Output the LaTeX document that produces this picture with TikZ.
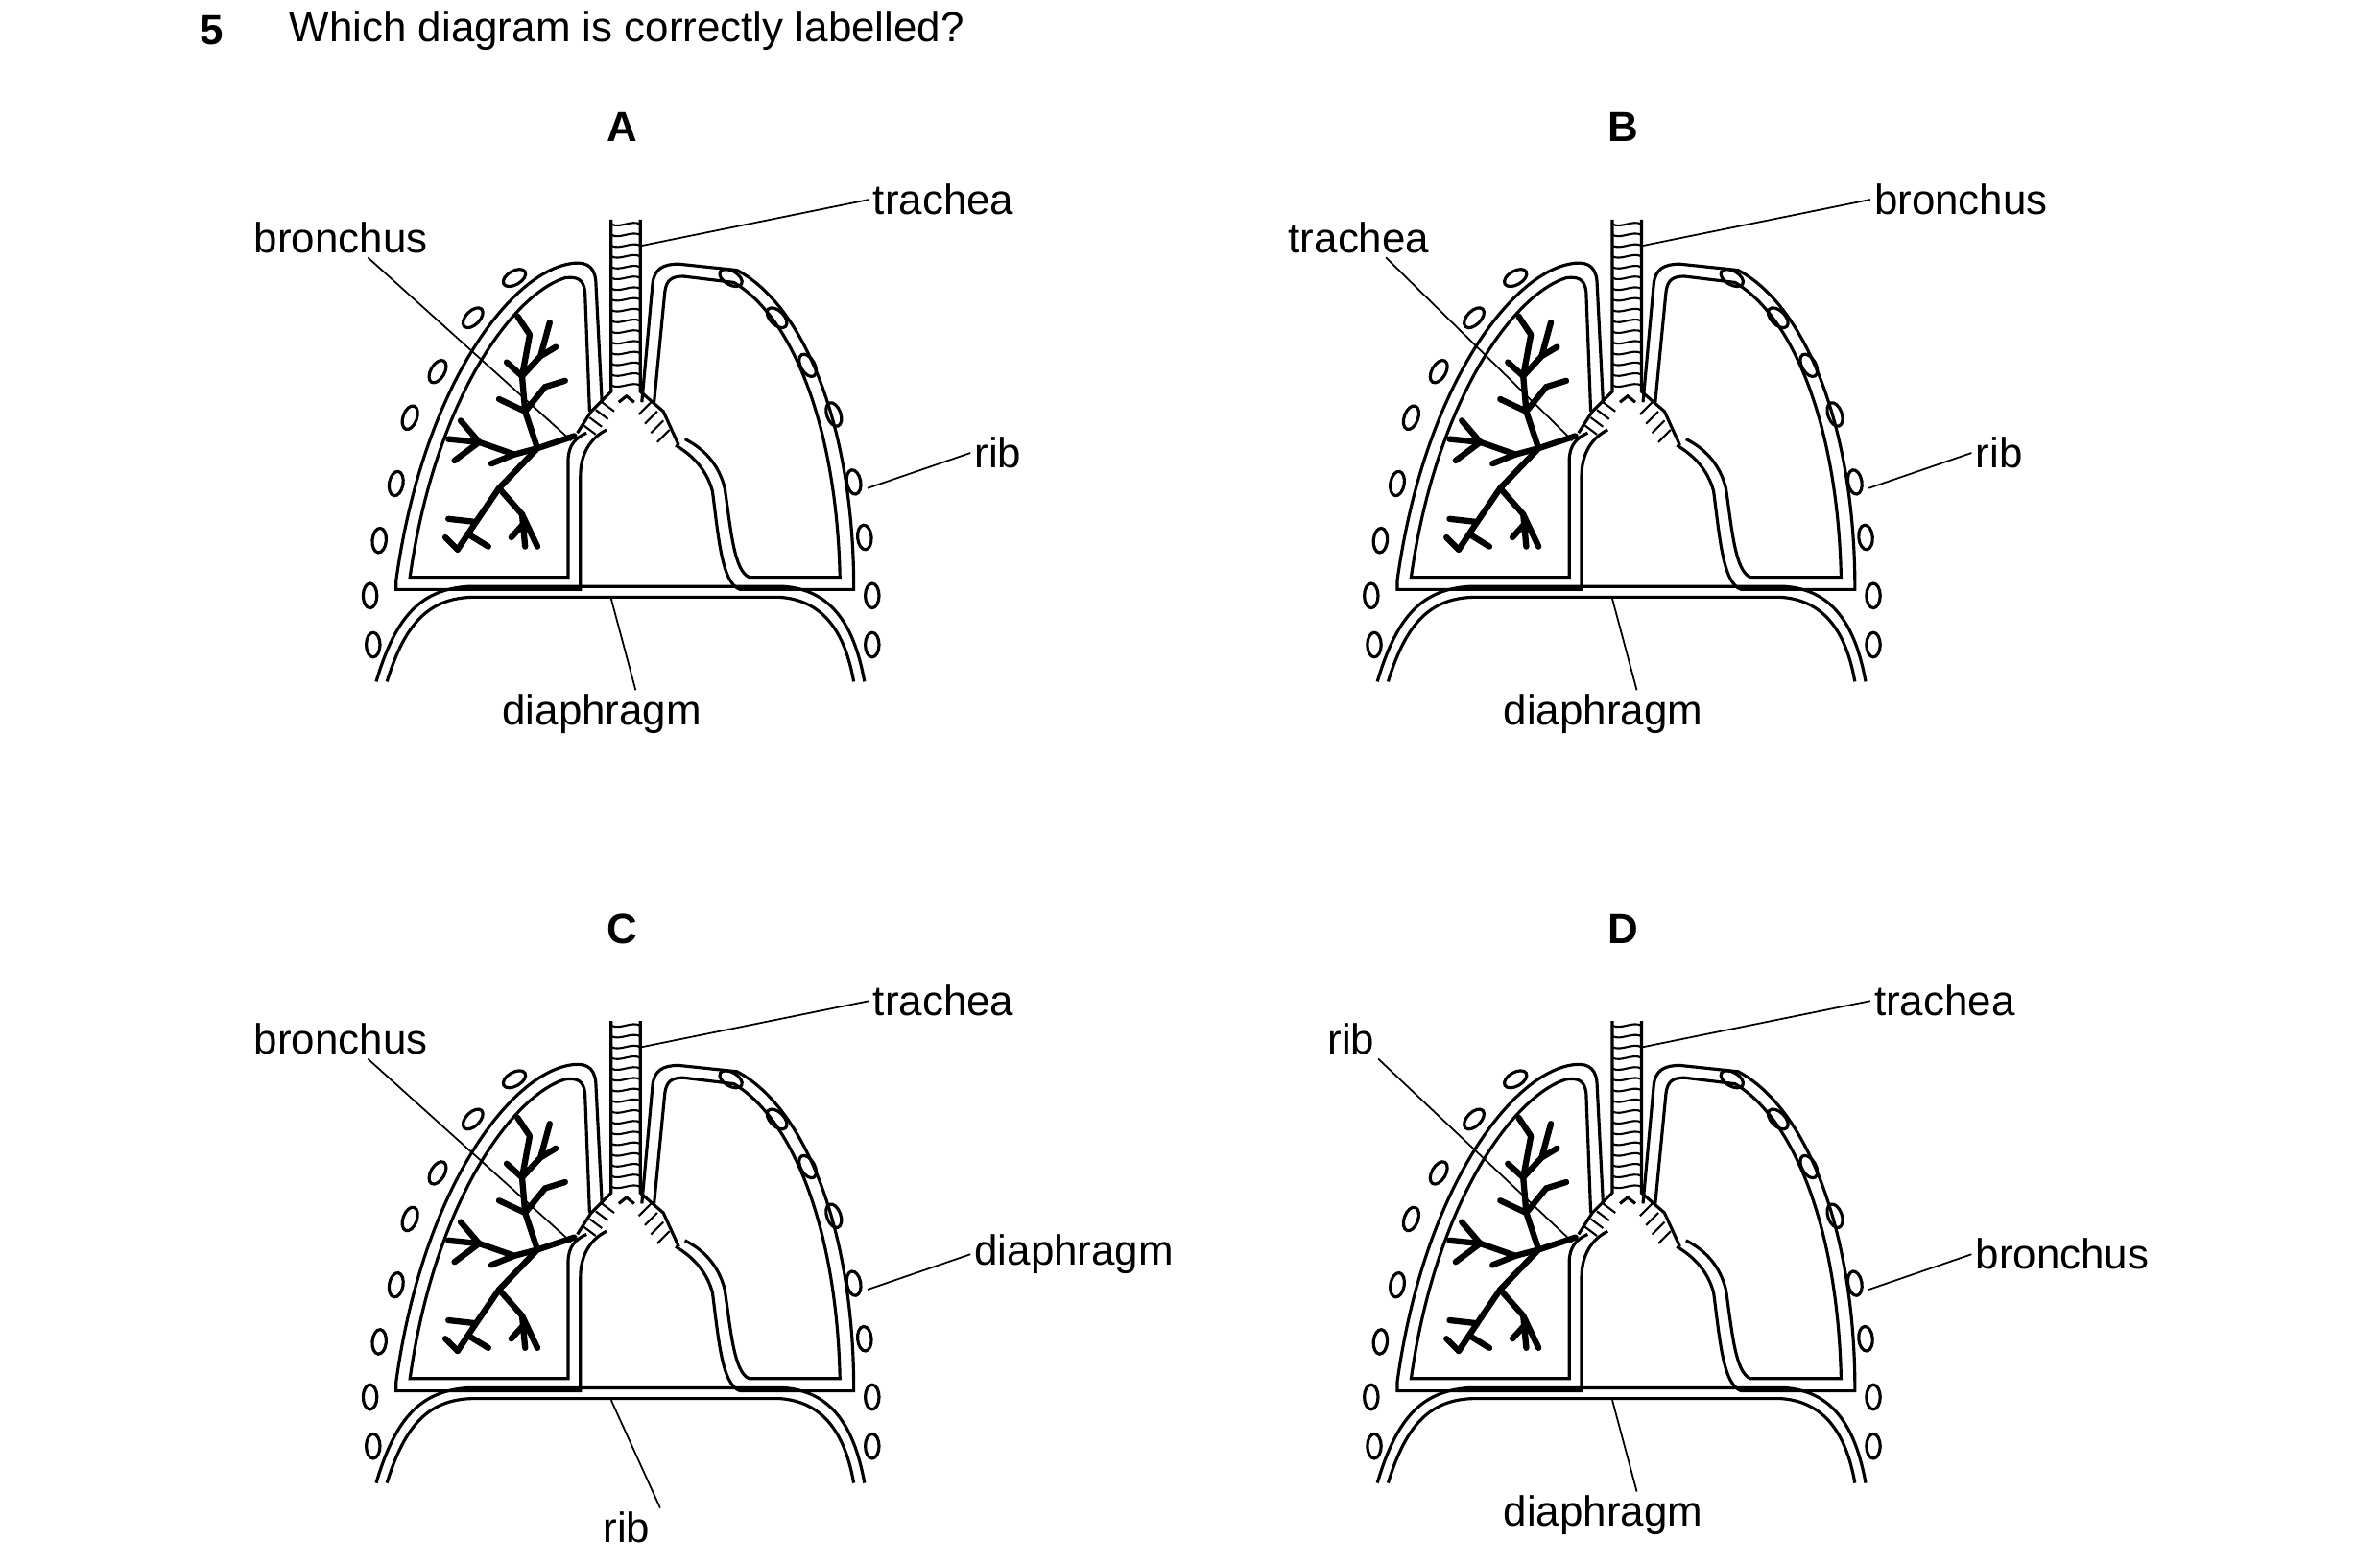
\documentclass[tikz,border=0pt]{standalone}
\usepackage{fontspec}
\setmainfont{Liberation Sans}
\begin{document}
\begin{tikzpicture}[x=0.016cm,y=-0.016cm,
  lab/.style={font=\fontsize{12.5}{14}\selectfont,inner sep=1pt},
  ttl/.style={font=\fontsize{12.5}{14}\selectfont\bfseries},
  ptr/.style={line width=0.5pt},
  outl/.style={line width=0.9pt},
  br/.style={line width=1.8pt,line cap=round},
  rib/.style={line width=0.9pt}]
\useasboundingbox (0,0) rectangle (1550,1018);
\tikzset{lungs/.pic={
  % ribs
  \foreach \x/\y/\a in {335/181/30,308/207/45,285/242/60,267/272/70,258/315/80,247/352/85,241/388/90,243/420/90,
      476/181/-30,506/207/-45,526/238/-60,543/270/-70,556/314/-80,563/350/-85,568/388/-90,568/420/-90}
    \draw[rib] (\x,\y) ellipse[x radius=8,y radius=4.5,rotate=\a];
  % diaphragm
  \draw[outl] (245,444) .. controls (258,400) and (275,384) .. (305,382) -- (510,382) .. controls (540,384) and (556,405) .. (563,444);
  \draw[outl] (252,444) .. controls (264,405) and (280,390) .. (307,389) -- (508,389) .. controls (535,391) and (550,410) .. (556,444);
  % left lung
  \draw[outl] (392,262) -- (388,183) .. controls (387,172) and (380,170) .. (370,172)
     .. controls (330,180) and (275,255) .. (258,378) -- (258,384) -- (378,384) -- (378,310) .. controls (378,295) and (385,285) .. (395,280);
  \draw[outl] (384,268) -- (381,190) .. controls (380,182) and (376,180) .. (368,181)
     .. controls (333,192) and (283,262) .. (267,376) -- (370,376) -- (370,300) .. controls (370,290) and (375,285) .. (382,282);
  % right lung
  \draw[outl] (418,262) -- (425,185) .. controls (426,175) and (432,172) .. (442,172) -- (480,176)
     .. controls (525,200) and (555,280) .. (556,378) -- (556,384) -- (482,384) .. controls (470,380) and (468,350) .. (464,320) .. controls (460,305) and (450,296) .. (440,290);
  \draw[outl] (426,262) -- (433,190) .. controls (434,182) and (438,180) .. (445,180) -- (478,184)
     .. controls (518,208) and (545,282) .. (547,376) -- (488,376) .. controls (478,372) and (476,345) .. (472,318) .. controls (468,302) and (458,292) .. (446,286);
  % trachea
  \draw[outl] (398,143) -- (398,255) -- (385,268) -- (376,282);
  \draw[outl] (417,143) -- (417,255) -- (432,268) -- (442,290);
  \draw[outl] (403,262) -- (408,258) -- (413,262);
  \foreach \y in {146,153,...,252} \draw[line width=0.6pt] (398,\y) .. controls (404,\y+3) and (411,\y-3) .. (417,\y);
  \foreach \i in {0,1,2,3} {\draw[line width=0.6pt] (392-\i*4,262+\i*5) -- (400-\i*4,268+\i*5);
      \draw[line width=0.6pt] (424+\i*4,262+\i*6) -- (416+\i*4,270+\i*6);}
  % bronchial tree
  \draw[br] (374,284) -- (350,292) -- (325,318) -- (310,340) -- (298,358);
  \draw[br] (350,292) -- (335,296) -- (312,288) -- (292,286);
  \draw[br] (312,288) -- (300,274) (312,288) -- (296,300) (335,296) -- (320,302);
  \draw[br] (325,318) -- (340,335) -- (342,356) (340,335) -- (350,356) (342,340) -- (333,350);
  \draw[br] (310,340) -- (292,338) (305,348) -- (318,356) (298,358) -- (290,350);
  \draw[br] (350,292) -- (342,268) -- (340,245) -- (345,218) (342,268) -- (355,252) -- (368,248)
     (340,245) -- (352,232) -- (358,210) (352,232) -- (362,226) (345,218) -- (337,206) (340,245) -- (330,236) (342,268) -- (325,260);
}}
\node[ttl] at (138,20) {5};
\node[lab,anchor=west] at (186,20) {Which diagram is correctly labelled?};
\foreach \dx/\dy/\t in {0/0/A,652/0/B,0/522/C,652/522/D} {
  \pic at (\dx,\dy) {lungs};
  \node[ttl] at (405+\dx,83+\dy) {\t};
  \coordinate (tr\t) at (418+\dx,160+\dy);
  \coordinate (bro\t) at (372+\dx,287+\dy);
  \coordinate (rib\t) at (565+\dx,318+\dy);
  \coordinate (dia\t) at (398+\dx,390+\dy);
}
% labels
\node[lab,anchor=west] (lA1) at (566,130) {trachea};
\node[lab] (lA2) at (222,155) {bronchus};
\node[lab,anchor=west] (lA3) at (632,295) {rib};
\node[lab] (lA4) at (392,465) {diaphragm};
\node[lab,anchor=west] (lB1) at (1218,130) {bronchus};
\node[lab] (lB2) at (885,155) {trachea};
\node[lab,anchor=west] (lB3) at (1284,295) {rib};
\node[lab] (lB4) at (1044,465) {diaphragm};
\node[lab,anchor=west] (lC1) at (566,652) {trachea};
\node[lab] (lC2) at (222,677) {bronchus};
\node[lab,anchor=west] (lC3) at (632,817) {diaphragm};
\node[lab] (lC4) at (408,995) {rib};
\node[lab,anchor=west] (lD1) at (1218,652) {trachea};
\node[lab] (lD2) at (880,677) {rib};
\node[lab,anchor=west] (lD3) at (1284,817) {bronchus};
\node[lab] (lD4) at (1044,987) {diaphragm};
\foreach \t in {A,B,C,D} {
  \draw[ptr] (tr\t) -- (l\t1.west);
  \draw[ptr] (bro\t) -- ([xshift=8]l\t2.south);
  \draw[ptr] (rib\t) -- (l\t3.west);
  \draw[ptr] (dia\t) -- ([xshift=10]l\t4.north);
}
\end{tikzpicture}
\end{document}
